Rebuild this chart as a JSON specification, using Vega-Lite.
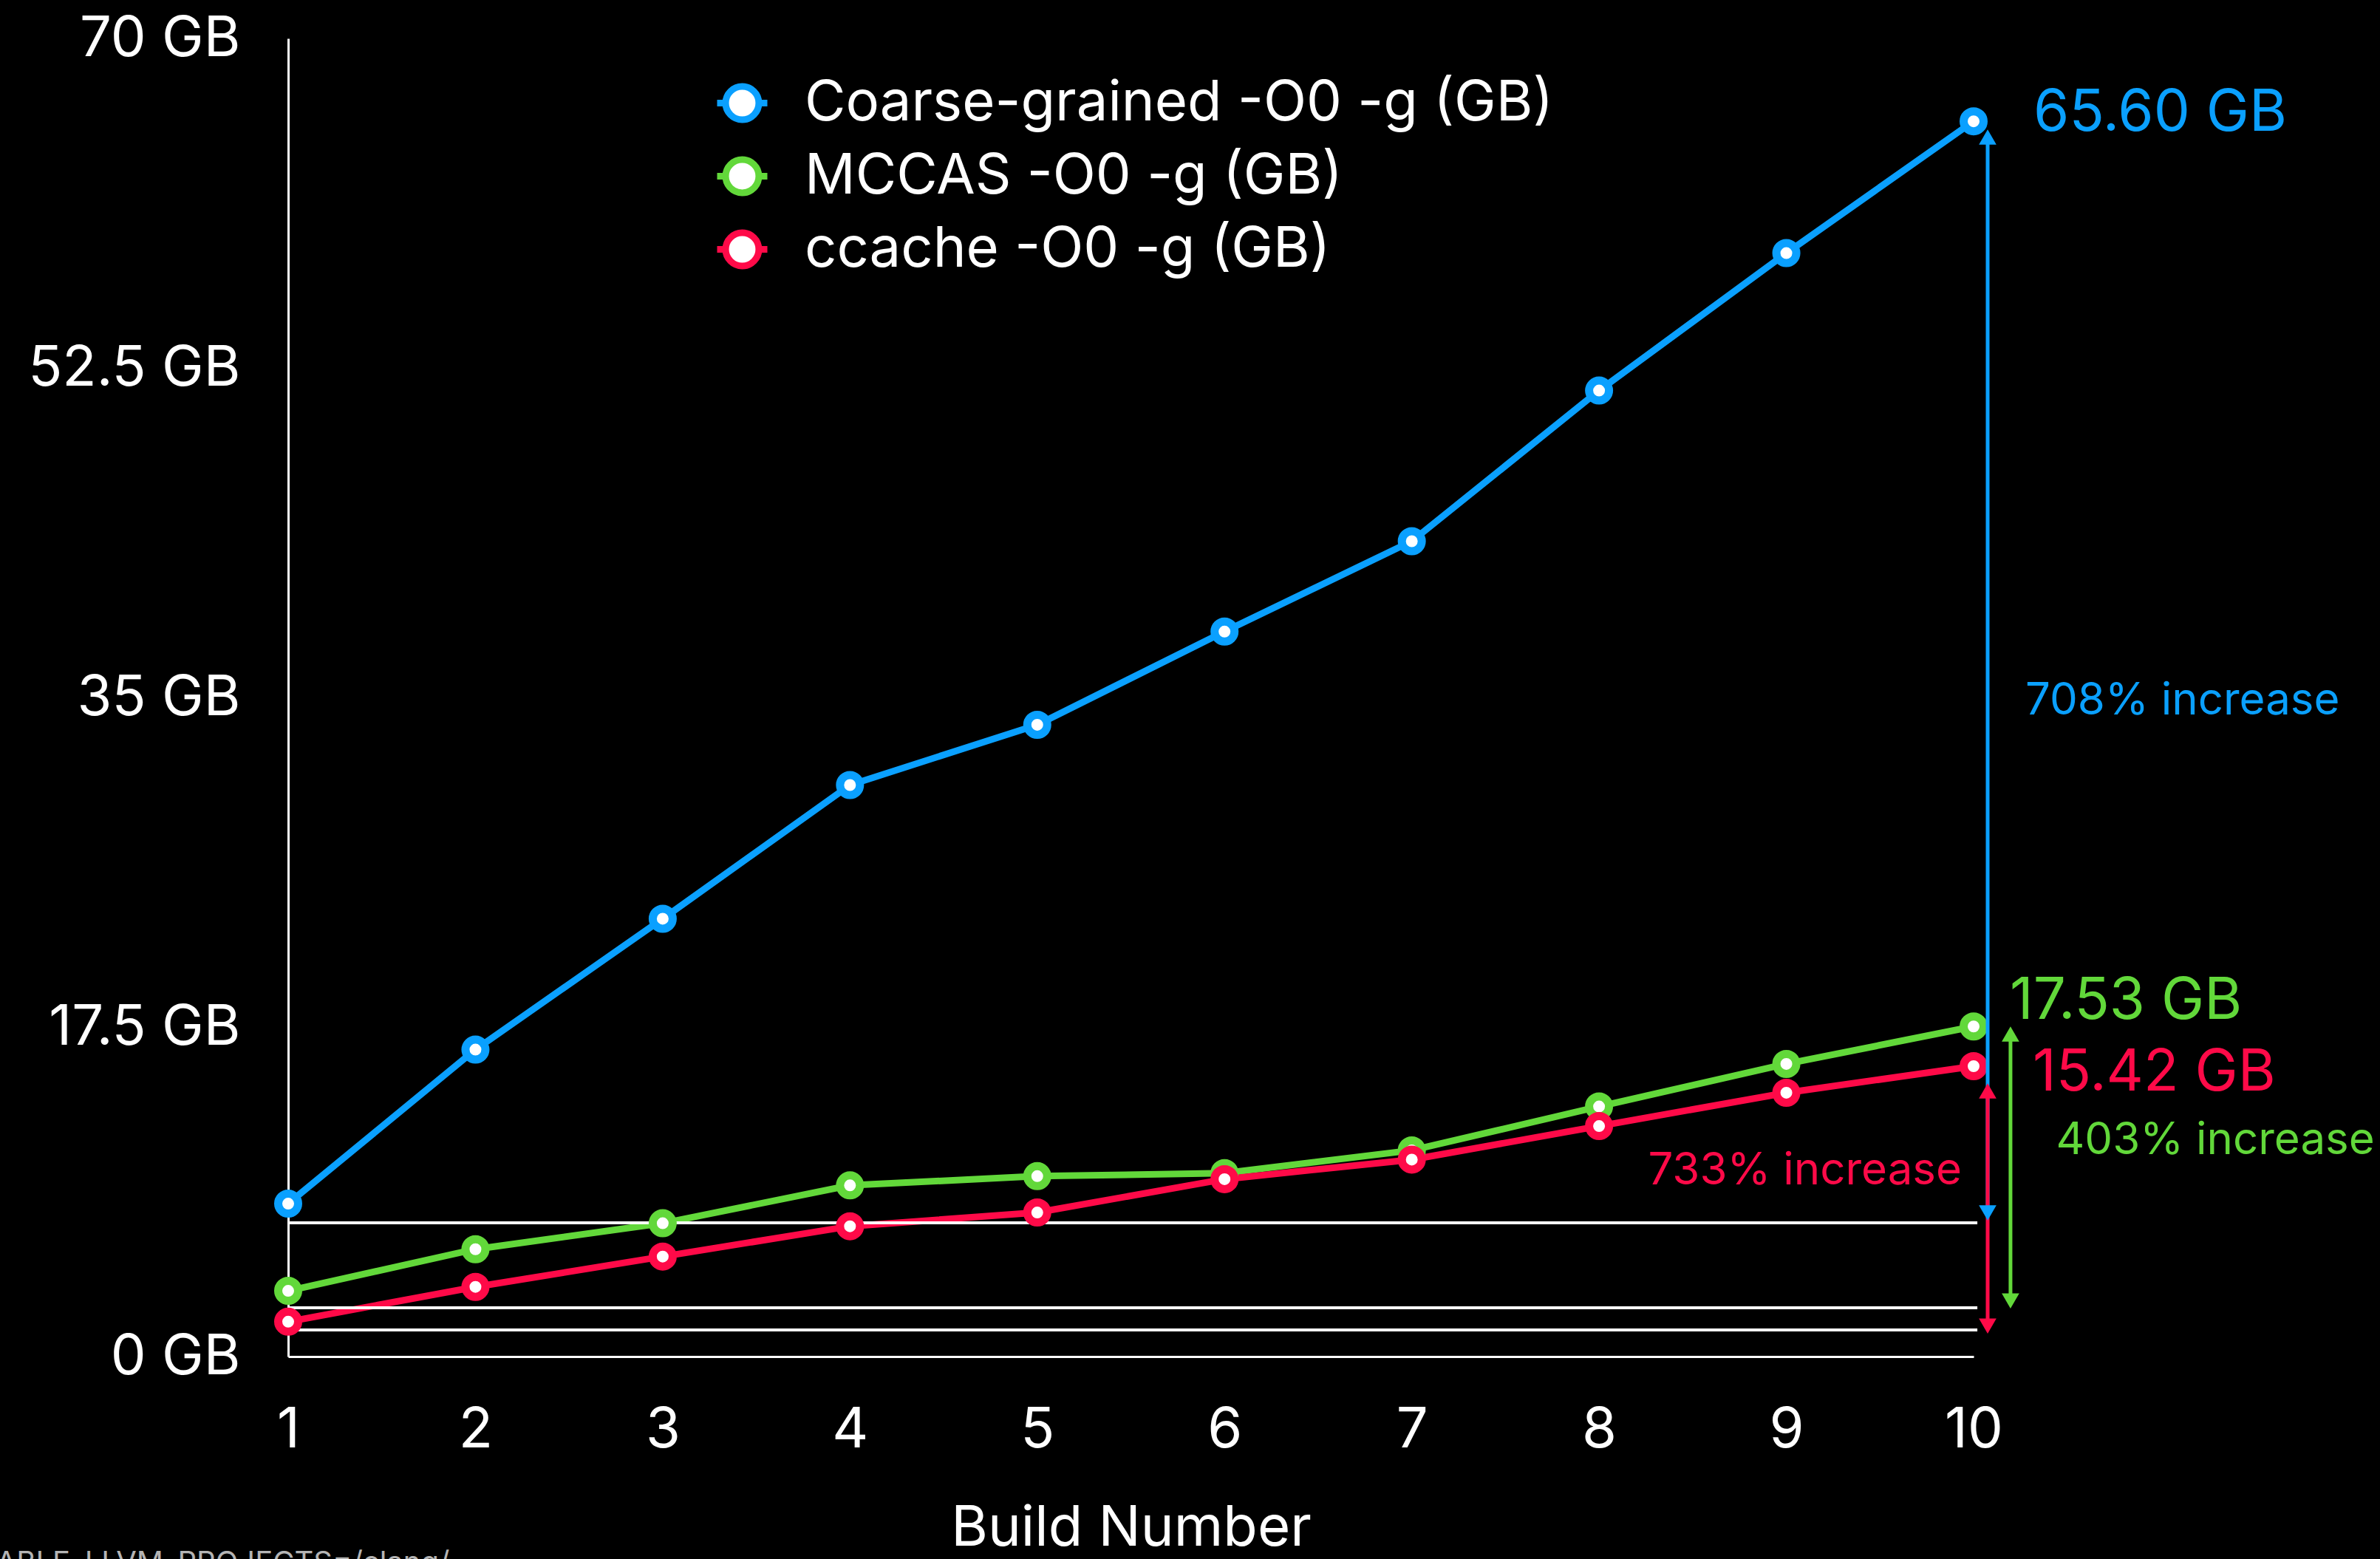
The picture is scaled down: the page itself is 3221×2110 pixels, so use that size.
{
  "$schema": "https://vega.github.io/schema/vega-lite/v6.json",
  "width": 2281,
  "height": 1784,
  "autosize": {"type": "none"},
  "padding": {"left": 390, "top": 52, "right": 550, "bottom": 274},
  "background": "black",
  "config": {
    "view": {"stroke": null},
    "font": "Inter",
    "axis": {"grid": false, "ticks": false, "tickSize": 0, "domainColor": "white", "domainWidth": 3, "labelColor": "white", "labelFontSize": 76, "labelFont": "Inter", "labelLimit": 0, "titleColor": "white", "titleFontSize": 76, "titleFontWeight": "normal", "titleFont": "Inter"}
  },
  "datasets": {
    "main": [
      {"build": 1, "series": "Coarse-grained -O0 -g (GB)", "gb": 8.12},
      {"build": 2, "series": "Coarse-grained -O0 -g (GB)", "gb": 16.3},
      {"build": 3, "series": "Coarse-grained -O0 -g (GB)", "gb": 23.25},
      {"build": 4, "series": "Coarse-grained -O0 -g (GB)", "gb": 30.35},
      {"build": 5, "series": "Coarse-grained -O0 -g (GB)", "gb": 33.55},
      {"build": 6, "series": "Coarse-grained -O0 -g (GB)", "gb": 38.5},
      {"build": 7, "series": "Coarse-grained -O0 -g (GB)", "gb": 43.3},
      {"build": 8, "series": "Coarse-grained -O0 -g (GB)", "gb": 51.3},
      {"build": 9, "series": "Coarse-grained -O0 -g (GB)", "gb": 58.6},
      {"build": 10, "series": "Coarse-grained -O0 -g (GB)", "gb": 65.6},
      {"build": 1, "series": "MCCAS -O0 -g (GB)", "gb": 3.49},
      {"build": 2, "series": "MCCAS -O0 -g (GB)", "gb": 5.7},
      {"build": 3, "series": "MCCAS -O0 -g (GB)", "gb": 7.08},
      {"build": 4, "series": "MCCAS -O0 -g (GB)", "gb": 9.09},
      {"build": 5, "series": "MCCAS -O0 -g (GB)", "gb": 9.58},
      {"build": 6, "series": "MCCAS -O0 -g (GB)", "gb": 9.74},
      {"build": 7, "series": "MCCAS -O0 -g (GB)", "gb": 10.95},
      {"build": 8, "series": "MCCAS -O0 -g (GB)", "gb": 13.28},
      {"build": 9, "series": "MCCAS -O0 -g (GB)", "gb": 15.54},
      {"build": 10, "series": "MCCAS -O0 -g (GB)", "gb": 17.53},
      {"build": 1, "series": "ccache -O0 -g (GB)", "gb": 1.85},
      {"build": 2, "series": "ccache -O0 -g (GB)", "gb": 3.7},
      {"build": 3, "series": "ccache -O0 -g (GB)", "gb": 5.31},
      {"build": 4, "series": "ccache -O0 -g (GB)", "gb": 6.92},
      {"build": 5, "series": "ccache -O0 -g (GB)", "gb": 7.65},
      {"build": 6, "series": "ccache -O0 -g (GB)", "gb": 9.42},
      {"build": 7, "series": "ccache -O0 -g (GB)", "gb": 10.46},
      {"build": 8, "series": "ccache -O0 -g (GB)", "gb": 12.24},
      {"build": 9, "series": "ccache -O0 -g (GB)", "gb": 14.01},
      {"build": 10, "series": "ccache -O0 -g (GB)", "gb": 15.42}
    ],
    "baselines": [{"gb": 7.1}, {"gb": 2.59}, {"gb": 1.41}],
    "arrows": [
      {"series": "Coarse-grained -O0 -g (GB)", "build": 10.075, "lo": 7.5, "hi": 64.9},
      {"series": "ccache -O0 -g (GB)", "build": 10.075, "lo": 1.5, "hi": 14.2},
      {"series": "MCCAS -O0 -g (GB)", "build": 10.197, "lo": 2.8, "hi": 17.2}
    ],
    "heads": [
      {"series": "Coarse-grained -O0 -g (GB)", "build": 10.075, "gb": 64.76, "dir": "up"},
      {"series": "Coarse-grained -O0 -g (GB)", "build": 10.075, "gb": 7.63, "dir": "down"},
      {"series": "ccache -O0 -g (GB)", "build": 10.075, "gb": 14.11, "dir": "up"},
      {"series": "ccache -O0 -g (GB)", "build": 10.075, "gb": 1.62, "dir": "down"},
      {"series": "MCCAS -O0 -g (GB)", "build": 10.197, "gb": 17.13, "dir": "up"},
      {"series": "MCCAS -O0 -g (GB)", "build": 10.197, "gb": 2.95, "dir": "down"}
    ],
    "notes": [
      {"series": "Coarse-grained -O0 -g (GB)", "build": 10.32, "gb": 65.98, "label": "65.60 GB", "kind": "value"},
      {"series": "MCCAS -O0 -g (GB)", "build": 10.193, "gb": 18.83, "label": "17.53 GB", "kind": "value"},
      {"series": "ccache -O0 -g (GB)", "build": 10.316, "gb": 15.02, "label": "15.42 GB", "kind": "value"},
      {"series": "Coarse-grained -O0 -g (GB)", "build": 10.276, "gb": 34.79, "label": "708% increase", "kind": "left"},
      {"series": "MCCAS -O0 -g (GB)", "build": 10.44, "gb": 11.45, "label": "403% increase", "kind": "left"},
      {"series": "ccache -O0 -g (GB)", "build": 9.937, "gb": 9.84, "label": "733% increase", "kind": "right"}
    ],
    "footer": [{"build": -0.56, "gb": -10.2, "label": "ABLE_LLVM_PROJECTS=/clang/"}]
  },
  "layer": [
    {
      "data": {"name": "main"},
      "mark": {"type": "line", "strokeWidth": 9},
      "encoding": {
        "x": {"field": "build", "type": "quantitative", "scale": {"domain": [1, 10], "nice": false, "zero": false},
              "axis": {"values": [1, 2, 3, 4, 5, 6, 7, 8, 9, 10], "format": "d", "labelPadding": 62, "title": "Build Number", "titlePadding": 58, "labelFlush": false}},
        "y": {"field": "gb", "type": "quantitative", "scale": {"domain": [0, 70], "nice": false},
              "axis": {"values": [0, 17.5, 35, 52.5, 70], "labelExpr": "datum.value + ' GB'", "labelPadding": 65, "title": null, "labelFlush": false}},
        "color": {"field": "series", "type": "nominal",
                  "scale": {"domain": ["ccache -O0 -g (GB)", "MCCAS -O0 -g (GB)", "Coarse-grained -O0 -g (GB)"], "range": ["#FF0A48", "#62D83A", "#0AA0FF"]},
                  "legend": null}
      }
    },
    {
      "data": {"name": "baselines"},
      "mark": {"type": "rule", "color": "white", "strokeWidth": 4},
      "encoding": {
        "x": {"datum": 1, "type": "quantitative"},
        "x2": {"datum": 10.02},
        "y": {"field": "gb", "type": "quantitative"}
      }
    },
    {
      "data": {"name": "main"},
      "mark": {"type": "point", "shape": "circle", "fill": "white", "filled": false, "size": 729, "strokeWidth": 11, "opacity": 1},
      "encoding": {
        "x": {"field": "build", "type": "quantitative"},
        "y": {"field": "gb", "type": "quantitative"},
        "stroke": {"field": "series", "type": "nominal",
                   "scale": {"domain": ["Coarse-grained -O0 -g (GB)", "MCCAS -O0 -g (GB)", "ccache -O0 -g (GB)"], "range": ["#0AA0FF", "#62D83A", "#FF0A48"]},
                   "legend": {"orient": "none", "legendX": 576, "legendY": 49, "title": null, "labelFontSize": 76, "labelColor": "white", "labelFont": "Inter", "labelLimit": 0,
                              "symbolType": "M-1,0L-0.66,0M0.66,0L1,0M-0.66,0A0.66,0.66,0,1,1,0.66,0A0.66,0.66,0,1,1,-0.66,0Z",
                              "symbolSize": 4624, "symbolStrokeWidth": 9, "symbolFillColor": "white", "symbolOpacity": 1, "labelOffset": 46, "rowPadding": 18, "padding": 0}}
      }
    },
    {
      "data": {"name": "arrows"},
      "mark": {"type": "rule", "strokeWidth": 5},
      "encoding": {
        "x": {"field": "build", "type": "quantitative"},
        "y": {"field": "lo", "type": "quantitative"},
        "y2": {"field": "hi"},
        "color": {"field": "series", "type": "nominal", "legend": null}
      }
    },
    {
      "data": {"name": "heads"},
      "mark": {"type": "point", "filled": true, "size": 560, "opacity": 1},
      "encoding": {
        "x": {"field": "build", "type": "quantitative"},
        "y": {"field": "gb", "type": "quantitative"},
        "shape": {"field": "dir", "type": "nominal", "scale": {"domain": ["up", "down"], "range": ["triangle-up", "triangle-down"]}, "legend": null},
        "color": {"field": "series", "type": "nominal", "legend": null}
      }
    },
    {
      "data": {"name": "notes"},
      "transform": [{"filter": "datum.kind === 'value'"}],
      "mark": {"type": "text", "align": "left", "baseline": "middle", "fontSize": 78, "font": "Inter"},
      "encoding": {
        "x": {"field": "build", "type": "quantitative"},
        "y": {"field": "gb", "type": "quantitative"},
        "text": {"field": "label"},
        "color": {"field": "series", "type": "nominal", "legend": null}
      }
    },
    {
      "data": {"name": "notes"},
      "transform": [{"filter": "datum.kind === 'left'"}],
      "mark": {"type": "text", "align": "left", "baseline": "middle", "fontSize": 60, "font": "Inter"},
      "encoding": {
        "x": {"field": "build", "type": "quantitative"},
        "y": {"field": "gb", "type": "quantitative"},
        "text": {"field": "label"},
        "color": {"field": "series", "type": "nominal", "legend": null}
      }
    },
    {
      "data": {"name": "notes"},
      "transform": [{"filter": "datum.kind === 'right'"}],
      "mark": {"type": "text", "align": "right", "baseline": "middle", "fontSize": 60, "font": "Inter"},
      "encoding": {
        "x": {"field": "build", "type": "quantitative"},
        "y": {"field": "gb", "type": "quantitative"},
        "text": {"field": "label"},
        "color": {"field": "series", "type": "nominal", "legend": null}
      }
    },
    {
      "data": {"name": "footer"},
      "mark": {"type": "text", "align": "left", "baseline": "top", "fontSize": 40, "font": "Inter", "color": "#b4b4b4"},
      "encoding": {
        "x": {"field": "build", "type": "quantitative"},
        "y": {"field": "gb", "type": "quantitative"},
        "text": {"field": "label"}
      }
    }
  ]
}
